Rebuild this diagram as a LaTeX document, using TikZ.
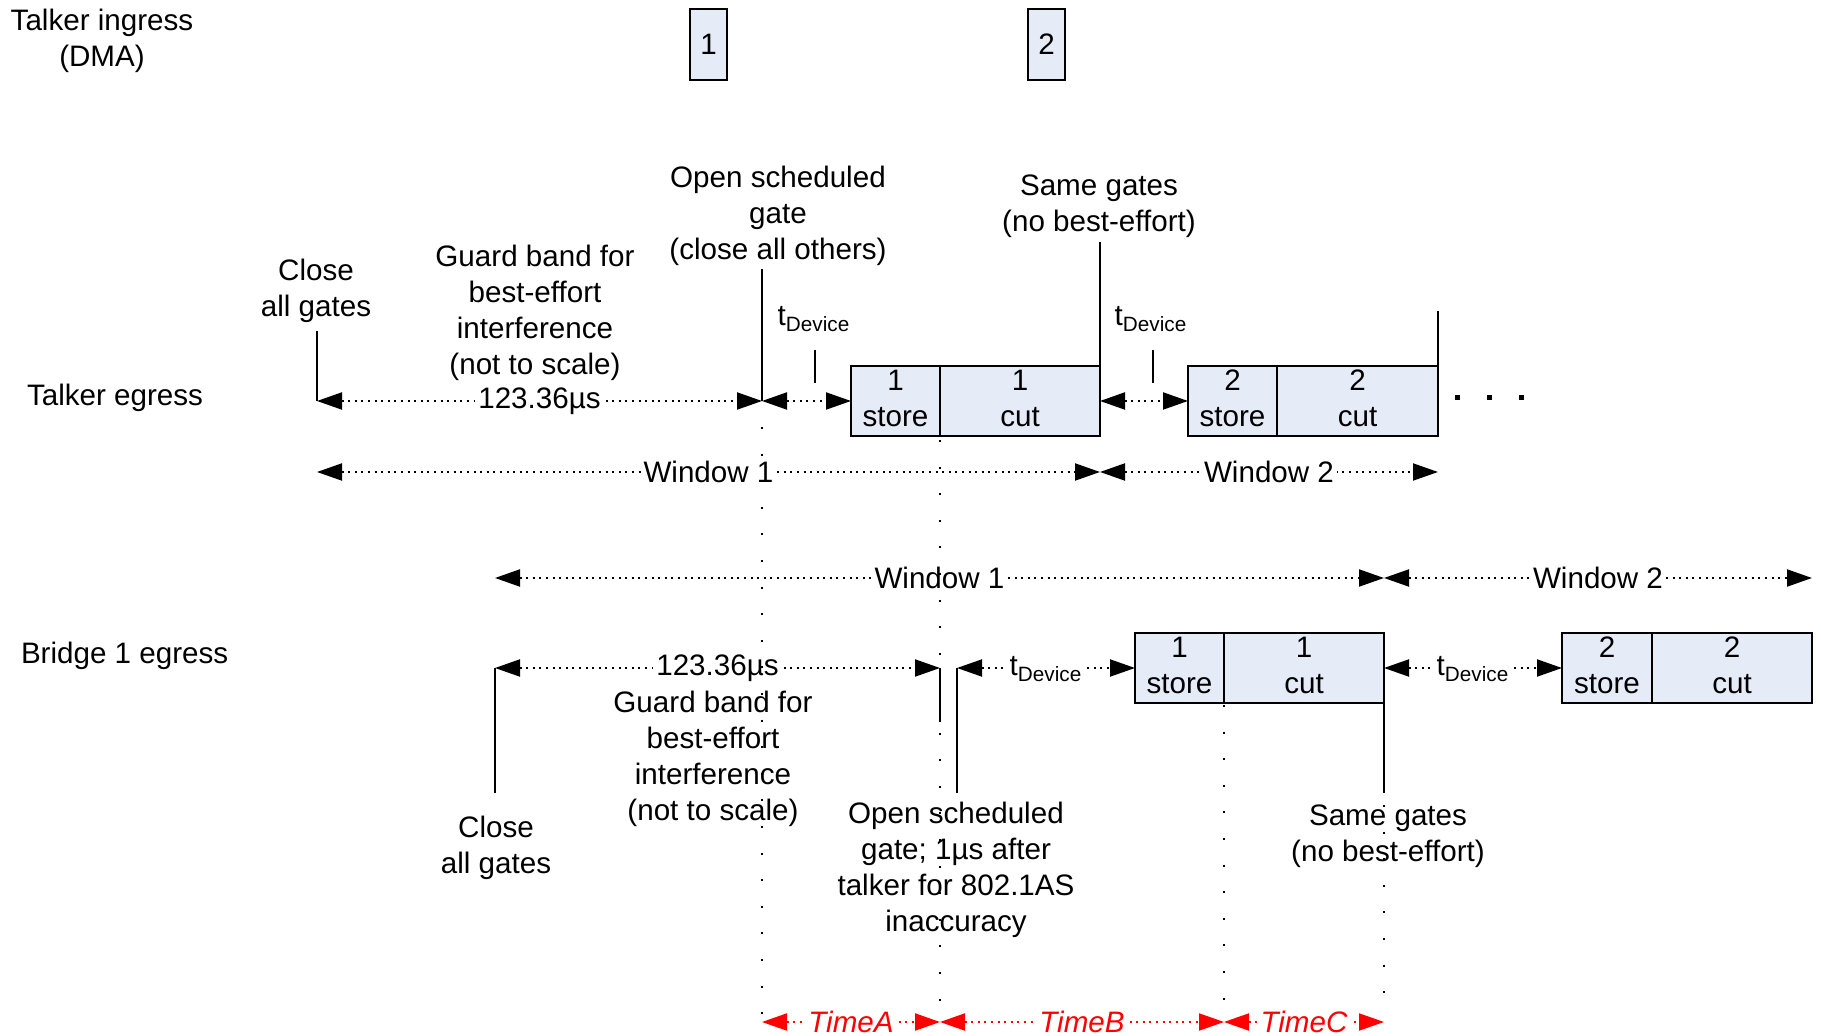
\documentclass[tikz,border=0pt]{standalone}
\usepackage{fontspec}
\setmainfont{Liberation Sans}
\usetikzlibrary{arrows.meta}
\definecolor{boxfill}{RGB}{230,236,247}
\newcommand\diagfont{\fontsize{14.8}{18}\selectfont}
\newcommand\lowpad{\rule[-2.4pt]{0pt}{0pt}}
\tikzset{every picture/.style={line width=1pt}}
\tikzset{
  >={Triangle[length=12.5pt,width=8.5pt]},
  frame/.style={draw, fill=boxfill, inner sep=0pt, outer sep=0pt, align=center, minimum height=35pt},
  span/.style={<->, dash pattern=on 1pt off 2.3pt},
  guide/.style={dash pattern=on 1pt off 12.3pt, shorten >=3pt},
  note/.style={inner sep=2pt, align=center},
  gap/.style={fill=white, inner xsep=1.5pt, inner ysep=1pt},
  redtime/.style={gap, text=red, font=\diagfont\itshape},
}

\begin{document}
\begin{tikzpicture}[x=0.5pt,y=0.5pt,yscale=-1,xscale=1,font=\diagfont]
\useasboundingbox (0,0) rectangle (1821,1036);

% Text Node
\node[note] (ingress) at (102,41) {Talker ingress\\(DMA)};
% Text Node
\node[note, anchor=west] (tRow) at (22,397.5) {Talker egress};
% Text Node
\node[note, anchor=west] (bRow) at (16,655.5) {Bridge 1 egress};

%Shape: Rectangle
\node[frame, minimum width=18.5pt, minimum height=35.5pt] (in1) at (708.5,44.5) {1};
%Shape: Rectangle
\node[frame, minimum width=18.5pt, minimum height=35.5pt] (in2) at (1046.5,44.5) {2};

% talker egress
\coordinate (tClose) at (317,401);
\coordinate (tOpen) at (762,401);
\coordinate (tCloseTop) at (317,331);
\coordinate (tOpenTop) at (762,269);
\coordinate (tSameTop) at (1100,242);
\coordinate (tEndTop) at (1438,311);
\coordinate (tTick1) at (815,350);
\coordinate (tTick2) at (1153,350);
\coordinate (tMore) at (1455,398);

%Shape: Rectangle
\node[frame, anchor=north west, minimum width=44.5pt] (tS1) at (851,366) {1\\store\lowpad};
\node[frame, anchor=north west, minimum width=80pt] (tC1) at (tS1.north east) {1\\cut\lowpad};
%Shape: Rectangle
\node[frame, anchor=north west, minimum width=44.5pt] (tS2) at (1188,366) {2\\store\lowpad};
\node[frame, anchor=north west, minimum width=80.5pt] (tC2) at (tS2.north east) {2\\cut\lowpad};

% Text Node
\node[note] (tCloseLbl) at (316,291) {Close\\all gates};
% Text Node
\node[note] (tGuardLbl) at (535,313) {Guard band for\\best-effort\\interference\\(not to scale)};
% Text Node
\node[note] (tOpenLbl) at (778,215.5) {Open scheduled\\gate\\(close all others)};
% Text Node
\node[note] (tSameLbl) at (1099,206) {Same gates\\(no best-effort)};
% Text Node
\node[anchor=base] (tDev1) at (814,326) {t\textsubscript{Device}};
\node[anchor=base] (tDev2) at (1151,326) {t\textsubscript{Device}};

%Straight Lines
\draw (tCloseTop) -- (tClose);
\draw (tOpenTop) -- (tOpen);
\draw (tC1.north east |- tSameTop) -- (tC1.north east);
\draw (tC2.north east |- tEndTop) -- (tC2.north east);
\draw (tTick1) -- ++(0,33);
\draw (tTick2) -- ++(0,33);

\draw[span] (tClose) -- node[gap] {123.36µs} (tOpen);
\draw[span] (tOpen) -- (tS1.west);
\draw[span] (tC1.east) -- (tS2.west);
\draw[line width=2.5pt, dash pattern=on 2.5pt off 13.5pt] (tMore) -- ++(70,0);

% windows
\coordinate (w1a) at (317,472);
\coordinate (w1b) at (1100,472);
\coordinate (w1c) at (1438,472);
\coordinate (w2a) at (495,578);
\coordinate (w2b) at (1384,578);
\coordinate (w2c) at (1812,578);
\draw[span] (w1a) -- node[gap] {Window 1} (w1b);
\draw[span] (w1b) -- node[gap] {Window 2} (w1c);
\draw[span] (w2a) -- node[gap] {Window 1} (w2b);
\draw[span] (w2b) -- node[gap] {Window 2} (w2c);

% bridge egress
\coordinate (bClose) at (495,668);
\coordinate (bGuard) at (940,668);
\coordinate (bOpen) at (957,668);
\coordinate (bCloseFoot) at (495,793);
\coordinate (bGuardFoot) at (940,722);
\coordinate (bOpenFoot) at (957,793);
\coordinate (bSameFoot) at (1384,793);

%Shape: Rectangle
\node[frame, anchor=north west, minimum width=44.5pt] (bS1) at (1135,633) {1\\store\lowpad};
\node[frame, anchor=north west, minimum width=80pt] (bC1) at (bS1.north east) {1\\cut\lowpad};
%Shape: Rectangle
\node[frame, anchor=north west, minimum width=45pt] (bS2) at (1562,633) {2\\store\lowpad};
\node[frame, anchor=north west, minimum width=80pt] (bC2) at (bS2.north east) {2\\cut\lowpad};

% Text Node
\node[note] (bCloseLbl) at (496,847.5) {Close\\all gates};
% Text Node
\node[note] (bGuardLbl) at (713,758.5) {Guard band for\\best-effort\\interference\\(not to scale)};
% Text Node
\node[note] (bOpenLbl) at (956,869.5) {Open scheduled\\gate; 1µs after\\talker for 802.1AS\\inaccuracy};
% Text Node
\node[note] (bSameLbl) at (1388,836) {Same gates\\(no best-effort)};

%Straight Lines
\draw (bClose) -- (bCloseFoot);
\draw (bGuard) -- (bGuardFoot);
\draw (bOpen) -- (bOpenFoot);
\draw (bC1.south east) -- (bC1.south east |- bSameFoot);

\draw[span] (bClose) -- node[gap] {123.36µs} (bGuard);
\draw[span] (bOpen) -- node[gap, anchor=base, yshift=-4pt] {t\textsubscript{Device}} (bS1.west);
\draw[span] (bC1.east) -- node[gap, anchor=base, yshift=-4pt] {t\textsubscript{Device}} (bS2.west);

% times
\coordinate (gA) at (762,1022);
\coordinate (gB) at (940,1022);
\coordinate (gC) at (1224,1022);
\coordinate (gD) at (1384,1022);
\draw[span, red] (gA) -- node[redtime] {TimeA} (gB);
\draw[span, red] (gB) -- node[redtime] {TimeB} (gC);
\draw[span, red] (gC) -- node[redtime] {TimeC} (gD);

% dotted guides
\draw[guide, shorten <=13pt] (tOpen) -- (gA);
\draw[guide, shorten <=2pt] (tS1.south east) -- (gB);
\draw[guide, shorten <=1pt] (bS1.south east) -- (gC);
\draw[guide, shorten <=6pt] (bSameFoot) -- (gD);

\end{tikzpicture}
\end{document}
